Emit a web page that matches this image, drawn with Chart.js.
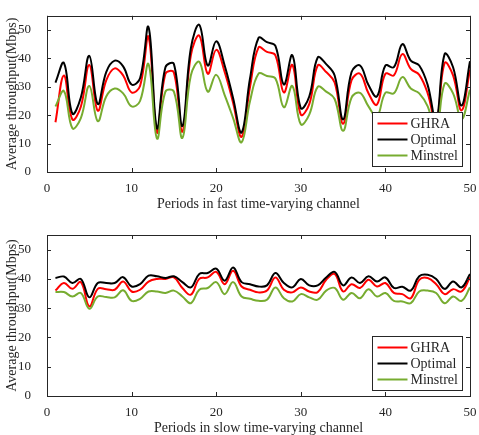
<!DOCTYPE html>
<html>
<head>
<meta charset="utf-8">
<script src="https://cdn.jsdelivr.net/npm/chart.js@4.4.0/dist/chart.umd.min.js"></script>
<style>
body { margin: 0; background: #fff; }
#wrap { position: relative; width: 479px; height: 435px; }
canvas { position: absolute; left: 0; }
</style>
</head>
<body>
<div id="wrap">
    <canvas id="fastChart" width="479" height="217" style="top:0"></canvas>
    <canvas id="slowChart" width="479" height="218" style="top:217px"></canvas>
</div>
<script>
var periods = [1,2,3,4,5,6,7,8,9,10,11,12,13,14,15,16,17,18,19,20,21,22,23,24,25,
    26,27,28,29,30,31,32,33,34,35,36,37,38,39,40,41,42,43,44,45,46,47,48,49,50];
var seriesNames = ['GHRA', 'Optimal', 'Minstrel'];

// fast time-varying channel
var fastGhra = [17.5,34,18.5,23,37.7,21.6,32.3,36.5,34,28,30.3,47.6,13.9,34.6,35,14.2,41,48,34.6,43,
    35.2,24.3,12.4,30,43.8,42.3,41.1,28,37.7,20.2,23.9,37.5,35.2,31.5,17,32.3,34.6,27.7,23.7,34.6,
    34,41.5,36.3,34.2,27.7,17,38.4,34,21.7,36];
var fastOptimal = [31.5,38.4,20.6,26.2,40.9,23.9,35.2,39.2,37.2,30.8,33,51,15.4,36.9,38,16.2,43.5,51.8,37.5,46,
    37.5,26,13.9,33,47.2,45.7,44.4,30.8,41.1,22.5,26.6,40.3,38,34,18.5,35.2,37.5,30.6,26.6,37.5,
    36.9,45,39.2,37.5,30.6,18,41.5,36.9,23.4,39];
var fastMinstrel = [23.1,28.5,15.4,19,30.3,17.9,26.6,29.4,27.7,23.1,25,38,11.8,28.3,28.3,12,34,38.8,28.3,34.2,
    27.1,19,10.5,25,34.6,33.8,32.9,22.8,30.3,16.8,20.2,30,28.3,25.7,14.5,26.2,27.9,23.1,19.5,27.9,
    27.7,33.4,29.4,27.7,23.1,14,31.1,27.7,18.5,29];

// slow time-varying channel
var slowGhra = [36,38.6,36.6,38.9,30.6,36.6,36.5,36.3,39.1,35.7,36.3,39.1,40,40,40.5,36.9,34.6,40,40.5,42.4,
    38.2,42.8,37.4,36.3,35.4,36,40.5,36.3,35.4,37.1,35.7,35.5,39.7,41.7,35.7,38.2,36.9,39.7,37.4,38.6,
    35.2,34.8,33.4,39.7,40.3,38.2,34.8,36.5,35.7,40.5];
var slowOptimal = [40.3,40.8,38.6,40,33.7,38.6,38.6,38.6,40.6,37.4,38.2,41.1,40.9,40.3,40.9,38.9,37.1,41.7,42,43.5,
    39.4,43.9,38.9,38.2,37.4,37.8,42,38.6,37.1,40,37.8,37.8,40.5,42.4,37.8,40.5,38.6,40.9,39.1,40.5,
    36.9,37.3,36,40.9,41.4,40,36.6,39.1,37.1,41.7];
var slowMinstrel = [35.5,35.5,34,35.2,29.8,34,33.8,33.7,36.1,32.5,33.2,35.7,35.7,35.2,36,34,31.7,36.3,36.9,38.9,
    34.8,38.9,34,33.2,32.5,32.9,37.1,33.4,32.3,34.8,33.7,32.9,36,36.9,32.9,35.2,33.4,36.5,34,35.2,
    32.5,32.3,31.7,35.7,36,35.2,31.7,34,32.5,37.1];

var xTicks = [0, 10, 20, 30, 40, 50];
var yTicks = [0, 10, 20, 30, 40, 50];

var colors = ['#ff0000', '#000000', '#77ac30'];
var ink = '#262626';
var serif = '"Liberation Serif", "Times New Roman", serif';

function toPoints(vals) {
    return periods.map(function(p, i) { return { x: p, y: vals[i] }; });
}

// box, inward ticks and the legend in the lower right
var framePlugin = {
    id: 'frame',
    afterDatasetsDraw: function(chart) {
        var ctx = chart.ctx, a = chart.chartArea;
        var xs = chart.scales.x, ys = chart.scales.y;
        ctx.save();
        ctx.strokeStyle = ink;
        ctx.lineWidth = 1;
        ctx.strokeRect(Math.round(a.left) + 0.5, Math.round(a.top) + 0.5,
            Math.round(a.right - a.left), Math.round(a.bottom - a.top));
        ctx.beginPath();
        xTicks.forEach(function(v) {
            var px = Math.round(xs.getPixelForValue(v)) + 0.5;
            ctx.moveTo(px, a.bottom); ctx.lineTo(px, a.bottom - 4);
            ctx.moveTo(px, a.top); ctx.lineTo(px, a.top + 4);
        });
        yTicks.forEach(function(v) {
            var py = Math.round(ys.getPixelForValue(v)) + 0.5;
            ctx.moveTo(a.left, py); ctx.lineTo(a.left + 4, py);
            ctx.moveTo(a.right, py); ctx.lineTo(a.right - 4, py);
        });
        ctx.stroke();

        // legend
        var w = 90, h = 54;
        var lx = Math.round(a.right - 8 - w) + 0.5, ly = Math.round(a.bottom - 6 - h) + 0.5;
        ctx.fillStyle = '#fff';
        ctx.fillRect(lx, ly, w, h);
        ctx.strokeStyle = ink;
        ctx.strokeRect(lx, ly, w, h);
        ctx.font = '14px ' + serif;
        ctx.textBaseline = 'middle';
        seriesNames.forEach(function(name, i) {
            var ry = ly + 11 + i * 16;
            ctx.strokeStyle = colors[i];
            ctx.lineWidth = 2;
            ctx.beginPath();
            ctx.moveTo(lx + 5, ry); ctx.lineTo(lx + 35, ry);
            ctx.stroke();
            ctx.fillStyle = ink;
            ctx.fillText(name, lx + 38, ry + 1);
        });
        ctx.restore();
    }
};

function makeChart(id, vals, xTitle, padTop, padBottom) {
    return new Chart(document.getElementById(id), {
        type: 'line',
        data: {
            datasets: vals.map(function(v, i) {
                return {
                    label: seriesNames[i],
                    data: toPoints(v),
                    borderColor: colors[i],
                    borderWidth: 2,
                    pointRadius: 0,
                    tension: 0.4,
                    order: 3 - i
                };
            })
        },
        options: {
            responsive: false,
            animation: false,
            layout: { padding: { top: padTop, right: 9, bottom: padBottom, left: 0 } },
            plugins: { legend: { display: false }, tooltip: { enabled: false } },
            scales: {
                x: {
                    type: 'linear', min: 0, max: 50,
                    afterBuildTicks: function(s) { s.ticks = xTicks.map(function(v) { return { value: v }; }); },
                    afterFit: function(s) { s.height = 39; },
                    grid: { display: false },
                    border: { display: false },
                    ticks: { color: ink, font: { family: serif, size: 13 }, padding: 1, maxRotation: 0 },
                    title: { display: true, text: xTitle, color: ink, font: { family: serif, size: 14, lineHeight: 1 }, padding: 0 }
                },
                y: {
                    min: 0, max: 55,
                    afterBuildTicks: function(s) { s.ticks = yTicks.map(function(v) { return { value: v }; }); },
                    afterFit: function(s) { s.width = 47; },
                    grid: { display: false },
                    border: { display: false },
                    ticks: { color: ink, font: { family: serif, size: 13 }, padding: 8 },
                    title: { display: true, text: 'Average throughput(Mbps)', color: ink, font: { family: serif, size: 14 }, padding: { top: 4, bottom: 0 } }
                }
            }
        },
        plugins: [framePlugin]
    });
}

makeChart('fastChart', [fastGhra, fastOptimal, fastMinstrel], 'Periods in fast time-varying channel', 13, 6);
makeChart('slowChart', [slowGhra, slowOptimal, slowMinstrel], 'Periods in slow time-varying channel', 18, 0);
</script>
</body>
</html>
